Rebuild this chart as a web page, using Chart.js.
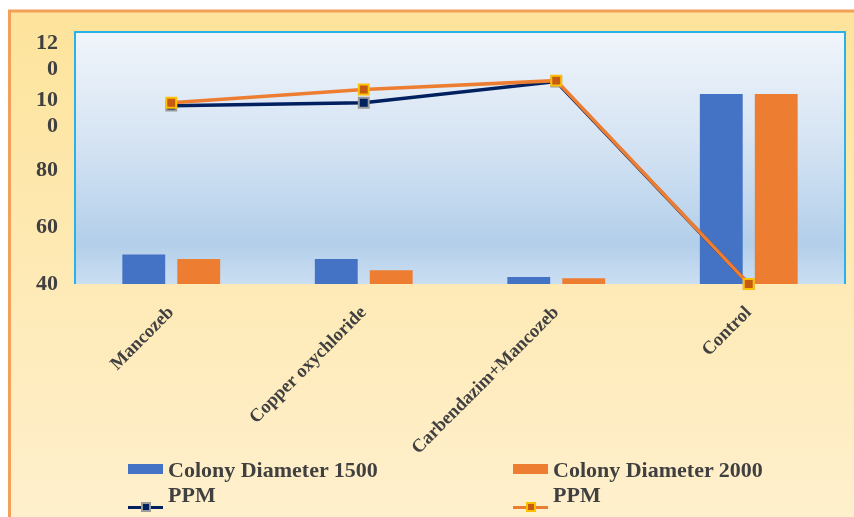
<!DOCTYPE html>
<html>
<head>
<meta charset="utf-8">
<script src="https://cdn.jsdelivr.net/npm/chart.js@4/dist/chart.umd.min.js"></script>
<style>
  html, body { margin: 0; padding: 0; background: #ffffff; }
  #wrap { position: relative; width: 854px; height: 517px; overflow: hidden; }
  #chart { position: absolute; left: 0; top: 0; }
  .lg-text { position: absolute; font: bold 22px "Liberation Serif", "Times New Roman", serif;
             color: #404040; line-height: 25px; width: 232px; }
  .lg-box { position: absolute; width: 35px; height: 10px; }
  .lg-line { position: absolute; width: 35px; height: 3px; }
  .lg-mark { position: absolute; width: 6px; height: 6px; border: 2px solid; top: -4.5px; left: 12.5px; }
</style>
</head>
<body>
<div id="wrap">
  <canvas id="chart" width="854" height="517"></canvas>
  <div id="legend"></div>
</div>
<script>
// Treatments along the x axis
const categories = ['Mancozeb', 'Copper oxychloride', 'Carbendazim+Mancozeb', 'Control'];

// Series names
const seriesNames = ['Colony Diameter 1500 PPM', 'Colony Diameter 2000 PPM'];

// Bar values (colony diameter)
const diameter1500 = [50.4, 48.8, 42.5, 106.8];
const diameter2000 = [48.8, 44.8, 42.0, 106.8];

// Line values
const line1500 = [102.7, 103.7, 111.2, 40];
const line2000 = [103.7, 108.4, 111.5, 40];

// Value axis
const yTicks = [40, 60, 80, 100, 120];
const yMin = 40;
const yMax = 128.6;

const BLUE = '#4472c4', ORANGE = '#ed7d31', NAVY = '#002060';

// Page frame and plot-area fill
const framePlugin = {
  id: 'frame',
  beforeDraw(chart) {
    const ctx = chart.ctx, a = chart.chartArea;
    ctx.save();
    ctx.fillStyle = '#ffffff';
    ctx.fillRect(0, 0, chart.width, chart.height);
    const bg = ctx.createLinearGradient(0, 11, 0, chart.height);
    bg.addColorStop(0, '#fde39b');
    bg.addColorStop(1, '#fff0cd');
    ctx.fillStyle = bg;
    ctx.fillRect(10, 11, chart.width - 10, chart.height - 11);
    ctx.strokeStyle = '#f2a05a';
    ctx.lineWidth = 3;
    ctx.beginPath();
    ctx.moveTo(9.5, chart.height);
    ctx.lineTo(9.5, 11);
    ctx.lineTo(chart.width, 11);
    ctx.stroke();

    const pg = ctx.createLinearGradient(0, a.top, 0, a.bottom);
    pg.addColorStop(0, '#f1f5fb');
    pg.addColorStop(0.45, '#d4e3f3');
    pg.addColorStop(0.84, '#b3cfea');
    pg.addColorStop(1, '#cadef2');
    ctx.fillStyle = pg;
    ctx.fillRect(a.left, a.top, a.right - a.left, a.bottom - a.top);

    ctx.strokeStyle = '#27b3e8';
    ctx.lineWidth = 2;
    ctx.beginPath();
    ctx.moveTo(a.left, a.bottom);
    ctx.lineTo(a.left, a.top);
    ctx.lineTo(a.right, a.top);
    ctx.lineTo(a.right, a.bottom);
    ctx.stroke();
    ctx.restore();
  }
};

const textColor = '#404040';
const serif = '"Liberation Serif", "Times New Roman", serif';

// Keep the plot area fixed: no extra room reserved for edge tick labels
function noEdgePadding(s) {
  s.paddingTop = 0; s.paddingBottom = 0; s.paddingLeft = 0; s.paddingRight = 0;
}

const chart = new Chart(document.getElementById('chart'), {
  type: 'bar',
  data: {
    labels: categories,
    datasets: [
      { type: 'bar', label: seriesNames[0], data: diameter1500, backgroundColor: BLUE,
        categoryPercentage: 0.571, barPercentage: 0.78, order: 2 },
      { type: 'bar', label: seriesNames[1], data: diameter2000, backgroundColor: ORANGE,
        categoryPercentage: 0.571, barPercentage: 0.78, order: 2 },
      { type: 'line', label: seriesNames[0], data: line1500, borderColor: NAVY, borderWidth: 3.5,
        pointStyle: 'rect', pointRadius: 7, pointBackgroundColor: NAVY, pointBorderColor: '#9a9a9a',
        pointBorderWidth: 2, tension: 0, clip: false, order: 1 },
      { type: 'line', label: seriesNames[1], data: line2000, borderColor: ORANGE, borderWidth: 3.5,
        pointStyle: 'rect', pointRadius: 7, pointBackgroundColor: '#c55a11', pointBorderColor: '#ffc000',
        pointBorderWidth: 2, tension: 0, clip: false, order: 0 }
    ]
  },
  options: {
    responsive: false,
    animation: false,
    layout: { padding: { left: 0, top: 32, right: 9, bottom: 0 } },
    plugins: { legend: { display: false }, tooltip: { enabled: false } },
    scales: {
      x: {
        grid: { display: false },
        border: { display: false },
        ticks: {
          autoSkip: false, minRotation: 45, maxRotation: 45, padding: 10,
          color: textColor, font: { family: serif, size: 18.5, weight: 'bold' }
        },
        afterFit(s) { s.height = 517 - 284; noEdgePadding(s); }
      },
      y: {
        min: yMin, max: yMax,
        grid: { display: false },
        border: { display: false },
        afterBuildTicks(s) { s.ticks = yTicks.map(v => ({ value: v })); },
        ticks: {
          padding: 9, color: textColor,
          font: { family: serif, size: 22, weight: 'bold' },
          callback(v) { const t = String(v); return t.length > 2 ? [t.slice(0, 2), t.slice(2)] : t; }
        },
        afterFit(s) { s.width = 75; noEdgePadding(s); }
      }
    }
  },
  plugins: [framePlugin]
});

// Legend laid out in two columns below the axis labels
const legend = document.getElementById('legend');
const legendCols = [
  { left: 128, fill: BLUE, line: NAVY, markFill: NAVY, markEdge: '#9a9a9a', name: seriesNames[0] },
  { left: 513, fill: ORANGE, line: ORANGE, markFill: '#c55a11', markEdge: '#ffc000', name: seriesNames[1] }
];
legendCols.forEach(c => {
  const box = document.createElement('div');
  box.className = 'lg-box';
  box.style.left = c.left + 'px'; box.style.top = '464px'; box.style.background = c.fill;
  legend.appendChild(box);

  const txt = document.createElement('div');
  txt.className = 'lg-text';
  txt.style.left = (c.left + 40) + 'px'; txt.style.top = '457px';
  txt.textContent = c.name;
  legend.appendChild(txt);

  const ln = document.createElement('div');
  ln.className = 'lg-line';
  ln.style.left = c.left + 'px'; ln.style.top = '506px'; ln.style.background = c.line;
  const mk = document.createElement('div');
  mk.className = 'lg-mark';
  mk.style.background = c.markFill; mk.style.borderColor = c.markEdge;
  ln.appendChild(mk);
  legend.appendChild(ln);
});
</script>
</body>
</html>
